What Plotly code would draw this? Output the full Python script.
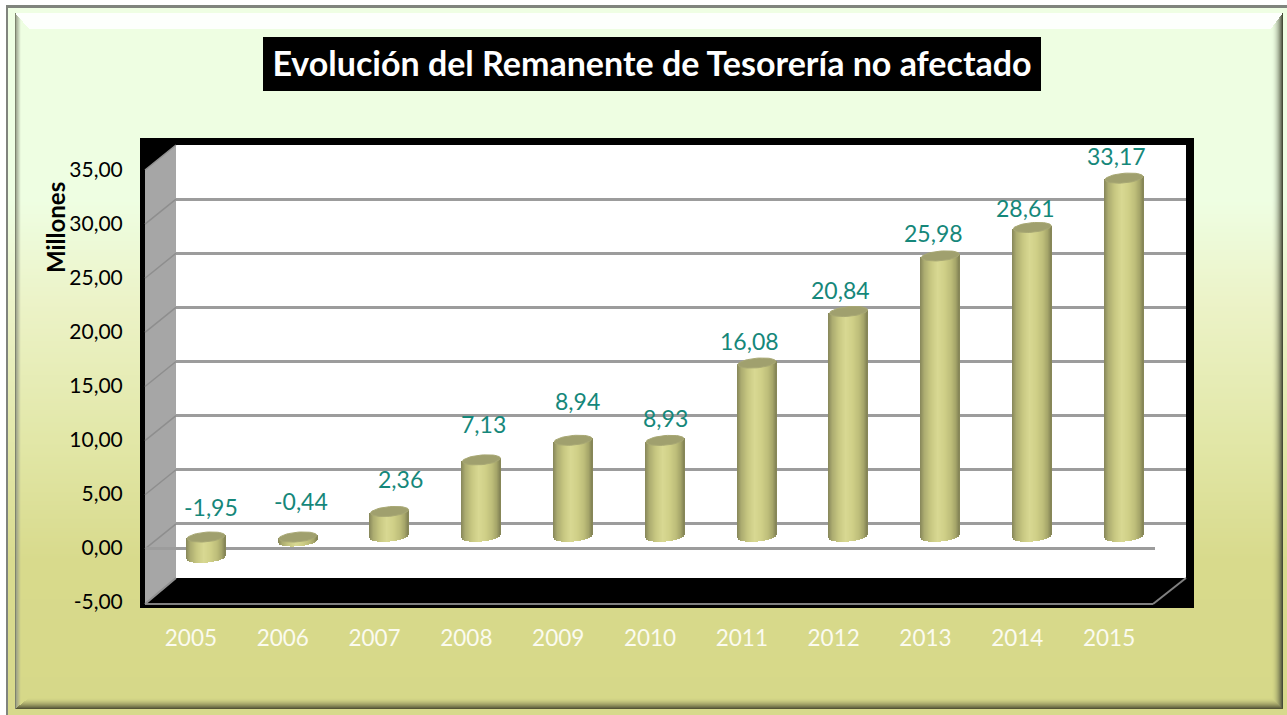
import base64, struct, zlib
import numpy as np
import plotly.graph_objects as go

# ---- data ----
years = ["2005", "2006", "2007", "2008", "2009", "2010", "2011", "2012", "2013", "2014", "2015"]
values = [-1.95, -0.44, 2.36, 7.13, 8.94, 8.93, 16.08, 20.84, 25.98, 28.61, 33.17]
y_ticks = [-5, 0, 5, 10, 15, 20, 25, 30, 35]
y_labels = ["-5,00", "0,00", "5,00", "10,00", "15,00", "20,00", "25,00", "30,00", "35,00"]
title = "Evolución del Remanente de Tesorería no afectado"
y_title = "Millones"

# ---- style / layout ----
W, H = 1287, 715
FONT = "Lato"
TEAL = "#15877a"
# per-label nudges of the hand-placed labels (px, relative to bar top)
label_dx = [5, 3, 11, 2, 4, 0, -7, -8, -7, -7, -8]
label_dy = [30, 36, 32, 36, 39, 22, 22, 22, 23, 19, 22]


def px(x):
    return x / W


def py(y):
    return 1 - y / H


def background_png():
    stops_y = [0, 200, 300, 450, 560, 715]
    stops_c = np.array([[238, 254, 226], [238, 254, 226], [236, 243, 200],
                        [225, 230, 165], [216, 218, 140], [214, 216, 136]], float)
    ys = np.arange(H)
    grad = np.stack([np.interp(ys, stops_y, stops_c[:, k]) for k in range(3)], axis=1)
    img = np.repeat(grad[:, None, :], W, axis=1)
    base = img.copy()
    # inner bevel
    L, T, R, B = 15, 13, 1282, 708
    wl, wt, wr, wb = 14.0, 16.0, 12.0, 11.0
    xx, yy = np.meshgrid(np.arange(W), np.arange(H))
    tl, tt = (xx - L) / wl, (yy - T) / wt
    tr, tb = (R - xx) / wr, (B - yy) / wb
    inside = (xx >= L) & (xx <= R) & (yy >= T) & (yy <= B)
    tmin = np.minimum.reduce([tl, tt, tr, tb])
    bev = inside & (tmin < 1)

    def mix(mask, dark, t, gamma=1.0):
        a = np.clip(1 - t, 0, 1) ** gamma
        for k in range(3):
            img[..., k][mask] = (base[..., k] * (1 - a) + dark[k] * a)[mask]

    m = bev & (tt == tmin)
    for k in range(3):
        img[..., k][m] = 255 * 0.9 + base[..., k][m] * 0.1
    m = bev & (tl == tmin)
    mix(m, (150, 155, 135), tl * 2.6)
    m = bev & (tr == tmin)
    mix(m, (70, 75, 55), tr, 2.2)
    m = bev & (tb == tmin)
    mix(m, (85, 85, 55), tb, 1.8)
    # dark rim of the bevel, outer frame line, page outside of it
    img[(xx == L) & inside] = (125, 130, 110)
    # lighten the strip between outer frame and bevel
    strip = ~inside
    img[strip] = np.clip(base[strip] * 0.97 + 255 * 0.03, 0, 255)
    img[:5, :] = 255
    img[:, :6] = 255
    img[5:8, 6:] = (128, 132, 125)
    img[5:, 6:8] = (128, 132, 125)
    img = img.round().astype(np.uint8)

    raw = b"".join(b"\x00" + img[r].tobytes() for r in range(H))

    def chunk(tag, data):
        c = struct.pack(">I", len(data)) + tag + data
        return c + struct.pack(">I", zlib.crc32(tag + data) & 0xffffffff)

    png = (b"\x89PNG\r\n\x1a\n" + chunk(b"IHDR", struct.pack(">IIBBBBB", W, H, 8, 2, 0, 0, 0))
           + chunk(b"IDAT", zlib.compress(raw, 9)) + chunk(b"IEND", b""))
    return "data:image/png;base64," + base64.b64encode(png).decode()


# plane geometry in page pixels
BACK = dict(x0=176, x1=1186, y_bot=578, y_top=145)
FRONT = dict(x0=145, x1=1155, y_bot=602, y_top=170)
BARS = dict(x0=160.1, x1=1169.9, y_bot=591.1, y_top=158.3)
UNIT = (BARS["y_bot"] - BARS["y_top"]) / 40.0  # px per value unit
SLOT = (BARS["x1"] - BARS["x0"]) / 11.0        # px per category


def back_y(v):
    return BACK["y_bot"] + (v + 5) / 40 * (BACK["y_top"] - BACK["y_bot"])


def poly(points, fill, line=None, lw=0):
    path = "M " + " L ".join(f"{px(x):.5f},{py(y):.5f}" for x, y in points) + " Z"
    return dict(type="path", xref="paper", yref="paper", path=path, fillcolor=fill,
                line=dict(color=line or fill, width=lw), layer="below")


shapes = [
    dict(type="rect", xref="paper", yref="paper", x0=px(263), x1=px(1041), y0=py(91), y1=py(37),
         fillcolor="black", line_width=0, layer="below"),
    dict(type="rect", xref="paper", yref="paper", x0=px(140), x1=px(1194), y0=py(608), y1=py(138),
         fillcolor="black", line_width=0, layer="below"),
    poly([(176, 145), (1186, 145), (1186, 578), (176, 578)], "white"),
    poly([(145, 170), (176, 145), (176, 578), (145, 604)], "#a6a6a6"),
]
for v in y_ticks[1:-1]:
    yb = back_y(v)
    shapes.append(dict(type="line", xref="paper", yref="paper", x0=px(176), y0=py(yb),
                       x1=px(145), y1=py(yb + 25), line=dict(color="#8e8e8e", width=1.5), layer="below"))
shapes += [
    dict(type="line", xref="paper", yref="paper", x0=px(145), y0=py(604), x1=px(1153), y1=py(604),
         line=dict(color="#808080", width=2), layer="below"),
    dict(type="line", xref="paper", yref="paper", x0=px(1153), y0=py(604), x1=px(1186), y1=py(578),
         line=dict(color="#808080", width=2), layer="below"),
    dict(type="line", xref="paper", yref="paper", x0=px(145), y0=py(604), x1=px(176), y1=py(578),
         line=dict(color="#909090", width=2), layer="below"),
    dict(type="line", xref="paper", yref="paper", x0=px(145), y0=py(170), x1=px(176), y1=py(145),
         line=dict(color="#909090", width=1.5), layer="below"),
]

# ---- cylinders: body made of 1px vertical strips, cap from an ellipse ----
HALF_W, HALF_H, TILT = 19.0, 4.8, 1.6
shade_u = [-1.0, -0.8, -0.45, -0.1, 0.25, 0.6, 0.85, 1.0]
shade_c = np.array([[138, 138, 92], [172, 172, 112], [200, 200, 130], [216, 216, 146],
                    [208, 208, 136], [190, 190, 122], [165, 165, 105], [135, 135, 88]], float)

sx, sb, sy, sc = [], [], [], []
cap_x, cap_y = [], []
for i, v in enumerate(values):
    low, high = min(v, 0.0), max(v, 0.0)
    for p in np.arange(-HALF_W, HALF_W + 0.5, 1.0):
        u = p / HALF_W
        lift = (TILT * u - HALF_H * np.sqrt(max(1 - u * u, 0))) / UNIT
        top = high + TILT * u / UNIT
        b = low + lift
        sx.append(i + p / SLOT)
        sb.append(b)
        sy.append(top - b)
        c = [np.interp(u, shade_u, shade_c[:, k]) for k in range(3)]
        sc.append(f"rgb({c[0]:.0f},{c[1]:.0f},{c[2]:.0f})")
    for a in np.linspace(0, 2 * np.pi, 49):
        u = np.cos(a)
        cap_x.append(i + HALF_W * u / SLOT)
        cap_y.append(high + (TILT * u + HALF_H * np.sin(a)) / UNIT)
    cap_x.append(None)
    cap_y.append(None)

fig = go.Figure()
idx = list(range(len(years)))
hidden = dict(mode="markers", marker=dict(opacity=0), hoverinfo="skip", showlegend=False)
fig.add_trace(go.Scatter(x=idx, y=values, xaxis="x", yaxis="y", **hidden))
fig.add_trace(go.Scatter(x=idx, y=values, xaxis="x2", yaxis="y2", **hidden))
fig.add_trace(go.Bar(x=sx, y=sy, base=sb, width=1.3 / SLOT, xaxis="x3", yaxis="y3",
                     marker=dict(color=sc, line_width=0), hoverinfo="skip", showlegend=False))
fig.add_trace(go.Scatter(x=cap_x, y=cap_y, xaxis="x3", yaxis="y3", mode="lines", fill="toself",
                         fillcolor="#a0a06e", line=dict(color="#a8a874", width=1),
                         hoverinfo="skip", showlegend=False))

annotations = [
    dict(xref="x3", yref="y3", x=i, y=max(v, 0), xshift=label_dx[i], yshift=label_dy[i],
         text=f"{v:.2f}".replace(".", ","), showarrow=False, xanchor="center", yanchor="middle",
         font=dict(family=FONT, size=23, color=TEAL))
    for i, v in enumerate(values)
]
annotations.append(dict(xref="paper", yref="paper", x=px(55), y=py(228), text=f"<b>{y_title}</b>",
                        textangle=-90, showarrow=False, xanchor="center", yanchor="middle",
                        font=dict(family=FONT, size=24, color="black")))


def dom(a, b, f):
    return [min(f(a), f(b)), max(f(a), f(b))]


off = dict(showticklabels=False, showgrid=False, zeroline=False, showline=False, ticks="", automargin=False)
fig.update_layout(
    template="none",
    width=W, height=H, margin=dict(l=0, r=0, t=0, b=0, pad=0), autosize=False,
    paper_bgcolor="white", plot_bgcolor="rgba(0,0,0,0)", barmode="overlay", bargap=0,
    title=dict(text=f"<b>{title}</b>", x=652 / W, xanchor="center", y=1 - 64 / H, yanchor="middle",
               xref="paper", yref="container", font=dict(family=FONT, size=34, color="white")),
    images=[dict(source=background_png(), xref="paper", yref="paper", x=0, y=1, sizex=1, sizey=1,
                 sizing="stretch", xanchor="left", yanchor="top", layer="below")],
    shapes=shapes, annotations=annotations,
    # back wall: gridlines
    xaxis=dict(domain=dom(BACK["x0"], BACK["x1"], px), range=[-0.5, 10.5], anchor="y", **off),
    yaxis=dict(domain=dom(BACK["y_bot"], BACK["y_top"], py), range=[-5, 35], anchor="x", automargin=False,
               showticklabels=False, ticks="", tickvals=y_ticks, showgrid=True, gridcolor="#9c9c9c",
               gridwidth=2.5, zeroline=False, showline=False),
    # front plane: tick labels and the zero line
    xaxis2=dict(domain=dom(FRONT["x0"], FRONT["x1"], px), range=[-0.5, 10.5], anchor="y2", automargin=False,
                tickvals=idx, ticktext=years, ticks="outside", ticklen=16,
                tickcolor="rgba(0,0,0,0)", showgrid=False, zeroline=False, showline=False,
                tickfont=dict(family=FONT, size=22.5, color="#fbfbf0")),
    yaxis2=dict(domain=dom(FRONT["y_bot"], FRONT["y_top"], py), range=[-5, 35], anchor="x2", automargin=False,
                tickvals=y_ticks, ticktext=y_labels, ticks="outside", ticklen=17,
                tickcolor="rgba(0,0,0,0)", showgrid=False, zeroline=True, zerolinecolor="#9c9c9c",
                zerolinewidth=2.5, showline=False,
                tickfont=dict(family=FONT, size=21, color="black")),
    # mid-depth plane: the cylinders
    xaxis3=dict(domain=dom(BARS["x0"], BARS["x1"], px), range=[-0.5, 10.5], anchor="y3", **off),
    yaxis3=dict(domain=dom(BARS["y_bot"], BARS["y_top"], py), range=[-5, 35], anchor="x3", **off),
)

fig.write_html("out.html", config=dict(displayModeBar=False),
               post_script="document.body.style.margin='0';document.body.style.overflow='hidden';")
